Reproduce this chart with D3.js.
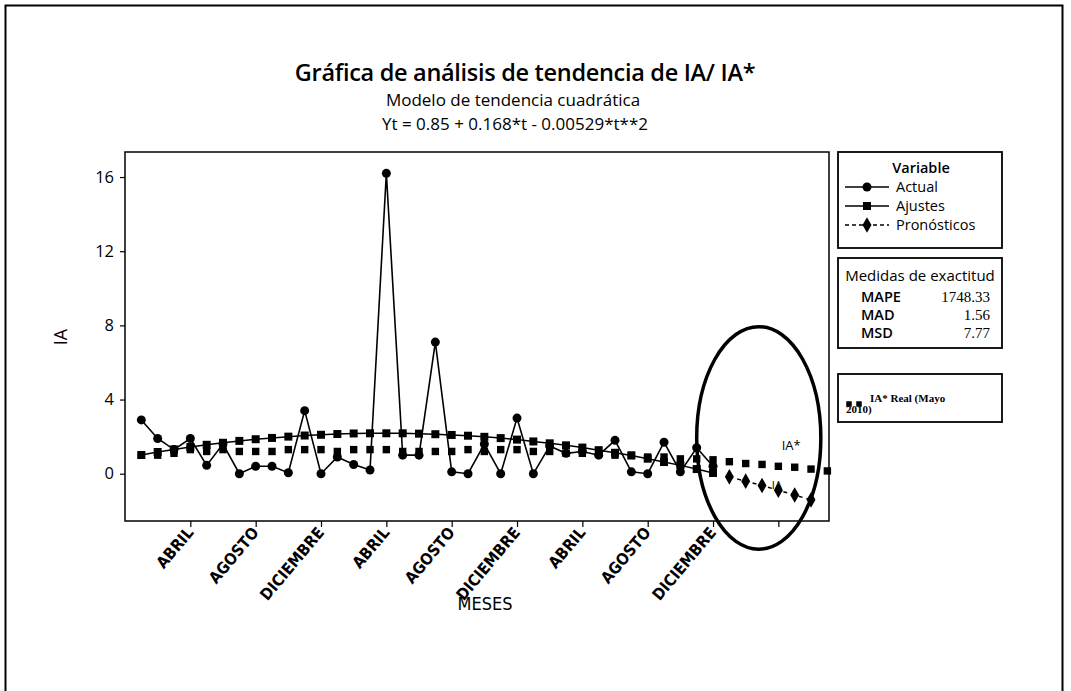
<!DOCTYPE html>
<html>
<head>
<meta charset="utf-8">
<script src="https://cdn.jsdelivr.net/npm/d3@7"></script>
<style>
  body { margin: 0; background: #fff; }
  text { fill: #000; }
</style>
</head>
<body>
<div id="chart"></div>
<script>
// values
const actual = [2.9, 1.9, 1.3, 1.9, 0.45, 1.6, 0.0, 0.4, 0.4, 0.05, 3.4, 0.0, 0.9, 0.5, 0.2, 16.2, 1.0, 1.0, 7.1, 0.1,
  0.0, 1.6, 0.0, 3.0, 0.0, 1.5, 1.1, 1.2, 1.0, 1.8, 0.1, 0.0, 1.7, 0.1, 1.4, 0.4];
const ajustes = [1.01, 1.17, 1.31, 1.44, 1.56, 1.67, 1.77, 1.86, 1.93, 2.00, 2.06, 2.10, 2.14, 2.17, 2.18, 2.18, 2.18, 2.16,
  2.13, 2.09, 2.05, 1.99, 1.92, 1.84, 1.74, 1.64, 1.53, 1.41, 1.27, 1.13, 0.98, 0.81, 0.63, 0.45, 0.25, 0.04];
const pronosticos = [-0.17, -0.40, -0.64, -0.89, -1.15, -1.41];
const iaReal = [1.0, 1.0, 1.1, 1.3, 1.2, 1.3, 1.2, 1.2, 1.2, 1.3, 1.3, 1.3, 1.2, 1.3, 1.3, 1.3, 1.2, 1.2, 1.2, 1.2,
  1.3, 1.2, 1.3, 1.3, 1.2, 1.2, 1.1, 1.1, 1.1, 1.0, 1.0, 0.9, 0.9, 0.8, 0.8, 0.75, 0.65, 0.55, 0.5, 0.4, 0.35, 0.25, 0.15];
const tickMonths = [4, 8, 12, 16, 20, 24, 28, 32, 36, 40];
const tickLabels = ["ABRIL", "AGOSTO", "DICIEMBRE", "ABRIL", "AGOSTO", "DICIEMBRE", "ABRIL", "AGOSTO", "DICIEMBRE", ""];
const yTicks = [0, 4, 8, 12, 16];
const medidas = [["MAPE", "1748.33"], ["MAD", "1.56"], ["MSD", "7.77"]];

const W = 1071, H = 691;
const svg = d3.select("#chart").append("svg")
  .attr("width", W)
  .attr("height", H);

const font = "'Open Sans', 'Noto Sans', sans-serif";
const narrow = "'Liberation Sans Narrow', 'DejaVu Sans Condensed', 'Noto Sans', sans-serif";
const serif = "'Liberation Serif', serif";

// page frame
svg.append("rect")
  .attr("x", 5.5).attr("y", 5.5)
  .attr("width", 1057).attr("height", 720)
  .attr("fill", "none").attr("stroke", "#000").attr("stroke-width", 2);

// titles
svg.append("text").attr("x", 525).attr("y", 81)
  .attr("text-anchor", "middle").attr("font-family", font)
  .attr("font-size", 23.5).attr("font-weight", 600)
  .attr("letter-spacing", -0.3)
  .text("Gráfica de análisis de tendencia de IA/ IA*");
svg.append("text").attr("x", 513).attr("y", 106)
  .attr("text-anchor", "middle").attr("font-family", font)
  .attr("font-size", 17)
  .text("Modelo de tendencia cuadrática");
svg.append("text").attr("x", 515).attr("y", 130)
  .attr("text-anchor", "middle").attr("font-family", font)
  .attr("font-size", 17)
  .text("Yt = 0.85 + 0.168*t - 0.00529*t**2");

const plot = { left: 125, right: 829, top: 152, bottom: 521 };

const x = d3.scaleLinear().domain([0, 43.1]).range([plot.left, plot.right]);
const y = d3.scaleLinear().domain([-2.55, 17.35]).range([plot.bottom, plot.top]);

const g = svg.append("g");

g.append("rect")
  .attr("x", plot.left).attr("y", plot.top)
  .attr("width", plot.right - plot.left).attr("height", plot.bottom - plot.top)
  .attr("fill", "none").attr("stroke", "#000").attr("stroke-width", 1.5);

// y axis
const yAxis = g.append("g")
  .attr("transform", `translate(${plot.left},0)`)
  .call(d3.axisLeft(y).tickValues(yTicks).tickSize(5).tickPadding(6));
yAxis.select(".domain").remove();
yAxis.selectAll("text").attr("font-family", font).attr("font-size", 16.5);
yAxis.selectAll("line").attr("stroke-width", 1.2);

// x axis: ticks from d3, rotated labels drawn separately
const xAxis = g.append("g")
  .attr("transform", `translate(0,${plot.bottom})`)
  .call(d3.axisBottom(x).tickValues(tickMonths).tickSize(6).tickFormat(""));
xAxis.select(".domain").remove();
xAxis.selectAll("line").attr("stroke-width", 1.2);

g.selectAll(".xlab").data(tickMonths).enter().append("text")
  .attr("class", "xlab")
  .attr("transform", d => `translate(${x(d) + 4},${plot.bottom + 12}) rotate(-50)`)
  .attr("text-anchor", "end")
  .attr("font-family", narrow).attr("font-size", 16).attr("font-weight", "bold")
  .text((d, i) => tickLabels[i]);

svg.append("text").attr("x", 485).attr("y", 610)
  .attr("text-anchor", "middle").attr("font-family", narrow)
  .attr("font-size", 18).text("MESES");
svg.append("text")
  .attr("transform", "translate(67,337) rotate(-90)")
  .attr("text-anchor", "middle").attr("font-family", font)
  .attr("font-size", 18).text("IA");

const sq = d3.symbol().type(d3.symbolSquare);
const dia = d3.symbol().type(d3.symbolDiamond).size(70);
const line = d3.line().x(d => x(d[0])).y(d => y(d[1]));

// IA* Real (squares, no line)
const iaPts = iaReal.map((v, i) => [i + 1, v]);
g.selectAll(".ia").data(iaPts).enter().append("path")
  .attr("class", "ia")
  .attr("transform", d => `translate(${x(d[0])},${y(d[1])})`)
  .attr("d", sq.size(55)());

// fits
const fitPts = ajustes.map((v, i) => [i + 1, v]);
g.append("path").datum(fitPts)
  .attr("d", line).attr("fill", "none").attr("stroke", "#000").attr("stroke-width", 1.5);
g.selectAll(".fit").data(fitPts).enter().append("path")
  .attr("class", "fit")
  .attr("transform", d => `translate(${x(d[0])},${y(d[1])})`)
  .attr("d", sq.size(64)());

// forecasts
const forePts = pronosticos.map((v, i) => [ajustes.length + i + 1, v]);
g.append("path").datum(forePts)
  .attr("d", line).attr("fill", "none").attr("stroke", "#000")
  .attr("stroke-width", 1.5).attr("stroke-dasharray", "4,4");
g.selectAll(".fore").data(forePts).enter().append("path")
  .attr("class", "fore")
  .attr("transform", d => `translate(${x(d[0])},${y(d[1])})`)
  .attr("d", dia());

// actual
const actPts = actual.map((v, i) => [i + 1, v]);
g.append("path").datum(actPts)
  .attr("d", line).attr("fill", "none").attr("stroke", "#000").attr("stroke-width", 1.6);
g.selectAll(".act").data(actPts).enter().append("circle")
  .attr("class", "act")
  .attr("cx", d => x(d[0])).attr("cy", d => y(d[1]))
  .attr("r", 4.5);

// hand drawn annotation
const ell = { t: 38.8, v: 1.93, dt: 3.8, dv: 6.0 };
g.append("ellipse")
  .attr("cx", x(ell.t)).attr("cy", y(ell.v))
  .attr("rx", x(ell.dt) - x(0)).attr("ry", y(0) - y(ell.dv))
  .attr("fill", "none").attr("stroke", "#000").attr("stroke-width", 3.5);
g.append("text").attr("x", x(40.2)).attr("y", y(1.3))
  .attr("font-family", font).attr("font-size", 13).text("IA*");
g.append("text").attr("x", x(39.6)).attr("y", y(-0.8))
  .attr("font-family", font).attr("font-size", 11).text("IA");

// legend
const lg = svg.append("g").attr("font-family", font).attr("font-size", 14.5);
const lx = 838, lw = 164;
lg.append("rect").attr("x", lx).attr("y", 152).attr("width", lw).attr("height", 96)
  .attr("fill", "none").attr("stroke", "#000").attr("stroke-width", 1.8);
lg.append("text").attr("x", 921).attr("y", 173).attr("text-anchor", "middle")
  .attr("font-weight", 600).text("Variable");
const rows = [
  { name: "Actual", y: 192, dash: null, sym: "c" },
  { name: "Ajustes", y: 211, dash: null, sym: "s" },
  { name: "Pronósticos", y: 230, dash: "4,3", sym: "d" }
];
rows.forEach(r => {
  lg.append("line").attr("x1", 845).attr("x2", 889).attr("y1", r.y - 5).attr("y2", r.y - 5)
    .attr("stroke", "#000").attr("stroke-width", 1.6).attr("stroke-dasharray", r.dash);
  if (r.sym === "c") lg.append("circle").attr("cx", 867).attr("cy", r.y - 5).attr("r", 4.5);
  if (r.sym === "s") lg.append("path").attr("transform", `translate(867,${r.y - 5})`).attr("d", sq.size(64)());
  if (r.sym === "d") lg.append("path").attr("transform", `translate(867,${r.y - 5})`).attr("d", dia());
  lg.append("text").attr("x", 896).attr("y", r.y).text(r.name);
});

lg.append("rect").attr("x", lx).attr("y", 258).attr("width", lw).attr("height", 90)
  .attr("fill", "none").attr("stroke", "#000").attr("stroke-width", 1.8);
lg.append("text").attr("x", 920).attr("y", 281).attr("text-anchor", "middle")
  .attr("font-size", 15).text("Medidas de exactitud");
medidas.forEach((m, i) => {
  lg.append("text").attr("x", 861).attr("y", 302 + i * 18).attr("font-weight", 600).text(m[0]);
  lg.append("text").attr("x", 990).attr("y", 302 + i * 18).attr("text-anchor", "end")
    .attr("font-family", serif).attr("font-size", 15).text(m[1]);
});

lg.append("rect").attr("x", lx).attr("y", 374).attr("width", lw).attr("height", 48)
  .attr("fill", "none").attr("stroke", "#000").attr("stroke-width", 1.8);
[849, 859].forEach(px => {
  lg.append("path").attr("transform", `translate(${px},404)`).attr("d", sq.size(30)());
});
lg.append("text").attr("x", 870).attr("y", 402)
  .attr("font-family", serif).attr("font-size", 11).attr("font-weight", "bold")
  .text("IA* Real (Mayo");
lg.append("text").attr("x", 846).attr("y", 413)
  .attr("font-family", serif).attr("font-size", 11).attr("font-weight", "bold")
  .text("2010)");
</script>
</body>
</html>
